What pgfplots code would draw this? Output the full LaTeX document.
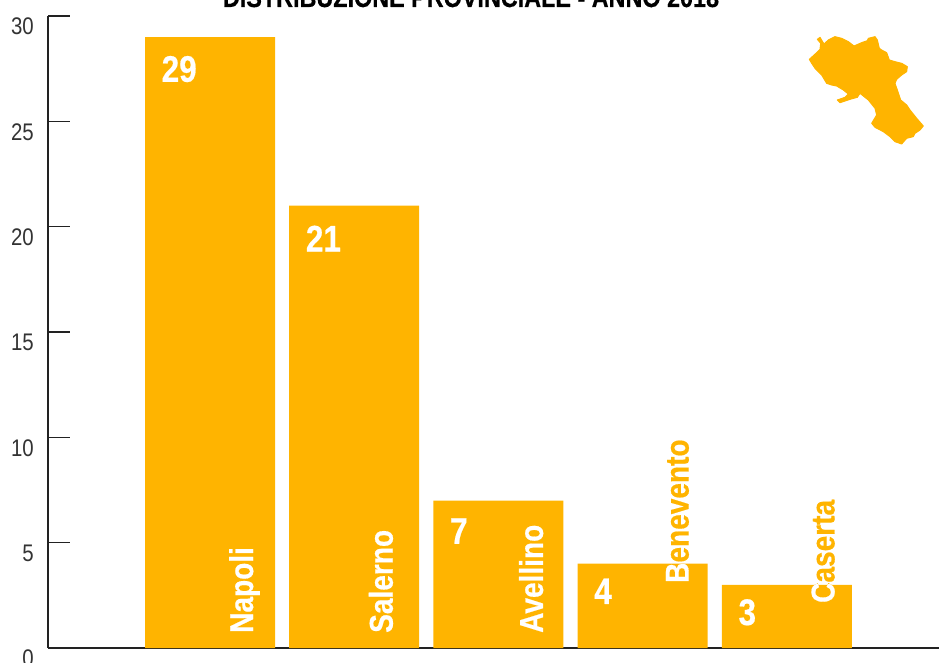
\documentclass[border=0pt]{standalone}
\usepackage{pgfplots}
\usepackage{pgfplotstable}
\pgfplotsset{compat=1.18}
\usepackage{fontspec}
\setmainfont{Liberation Sans}
\newfontfamily\condreg[FakeStretch=0.85]{Liberation Sans}
\newfontfamily\condbold[FakeStretch=0.85,FakeBold=0.5]{Liberation Sans Bold}
\definecolor{barorange}{HTML}{FFB400}
\definecolor{axisdark}{HTML}{222222}
\definecolor{ticktext}{HTML}{333333}

% Cases per province; dy is how far the number sits below the top of its bar
\pgfplotstableread{
idx cases dy
0   29    32
1   21    33
2   7     30.5
3   4     27.5
4   3     27.5
}\provincedata

% Province name, rotated, drawn orange and repainted white inside its bar
\newcommand{\provincelabel}[4]{%
  \node[xshift=#3,rotate=90,anchor=base west,inner sep=0pt,text=barorange,font=\condbold\fontsize{33}{33}\selectfont]
    at (axis cs:#1,#2) {#4};
  \begin{scope}
    \clip (axis cs:#1-0.45,0) rectangle (axis cs:#1+0.45,\csname barh#1\endcsname);
    \node[xshift=#3,rotate=90,anchor=base west,inner sep=0pt,text=white,font=\condbold\fontsize{33}{33}\selectfont]
      at (axis cs:#1,#2) {#4};
  \end{scope}}
\expandafter\def\csname barh0\endcsname{29}
\expandafter\def\csname barh1\endcsname{21}
\expandafter\def\csname barh2\endcsname{7}
\expandafter\def\csname barh3\endcsname{4}
\expandafter\def\csname barh4\endcsname{3}

\begin{document}
\begin{tikzpicture}[x=1pt,y=1pt]
\useasboundingbox (0,0) rectangle (939,662);
\clip (0,0) rectangle (939,662);

\node[anchor=base,inner sep=0pt,text=black,font=\fontsize{27.5}{27.5}\selectfont]
  at (471,655) {\condbold DISTRIBUZIONE PROVINCIALE - ANNO 2018};

\begin{axis}[
  at={(48pt,14pt)}, anchor=south west,
  scale only axis, width=891pt, height=632pt,
  xmin=-1.1234, xmax=5.055, ymin=0, ymax=30,
  axis x line=bottom, axis y line=left,
  axis line style={-,axisdark,line width=1.5pt},
  xtick=\empty,
  ytick={0,5,10,15,20,25,30},
  tick align=inside,
  major tick length=22pt,
  tick style={axisdark,line width=1.2pt},
  /pgf/number format/assume math mode=true,
  yticklabel style={font=\condreg\fontsize{24}{24}\selectfont,text=ticktext,yshift=-10.5pt,xshift=-14pt,inner sep=0pt},
  clip=false,
  ybar, bar width=130pt,
  visualization depends on={\thisrow{dy} \as \labeldrop},
  nodes near coords,
  nodes near coords style={anchor=west,inner sep=0pt,xshift=-48.5pt,yshift=-\labeldrop pt,text=white,
    font=\condbold\fontsize{37}{37}\selectfont},
  /pgf/number format/precision=0,
]
\addplot[fill=barorange,draw=none,bar shift=0pt] table[x=idx,y=cases] {\provincedata};
\provincelabel{0}{0.712}{43pt}{Napoli}
\provincelabel{1}{0.712}{38.5pt}{Salerno}
\provincelabel{2}{0.712}{44.5pt}{Avellino}
\provincelabel{3}{3.085}{46pt}{Benevento}
\provincelabel{4}{2.136}{47.6pt}{Caserta}
\end{axis}

% Outline of the region, top right
\begin{scope}[shift={(780,642)},x=0.3333pt,y=-0.3333pt]
\filldraw[barorange,line width=1pt,line join=round] (88,118)--(110,98)--(120,88)--(122,70)--(112,58)--(120,52)--(132,72)--(145,60)--(165,50)--(185,55)--(205,65)--(222,78)--(245,68)--(262,62)--(265,55)--(285,50)--(292,60)--(298,85)--(305,90)--(320,98)--(328,120)--(345,125)--(365,130)--(382,140)--(380,155)--(365,165)--(350,178)--(345,190)--(352,210)--(362,240)--(380,255)--(390,270)--(410,295)--(430,318)--(420,330)--(405,340)--(400,350)--(380,355)--(365,372)--(345,365)--(330,350)--(310,335)--(285,322)--(275,310)--(290,285)--(285,265)--(265,240)--(240,220)--(232,232)--(210,238)--(180,248)--(172,240)--(195,232)--(205,222)--(190,210)--(170,198)--(155,195)--(140,190)--(125,165)--(105,145)--(95,130)--cycle;
\end{scope}
\end{tikzpicture}
\end{document}
